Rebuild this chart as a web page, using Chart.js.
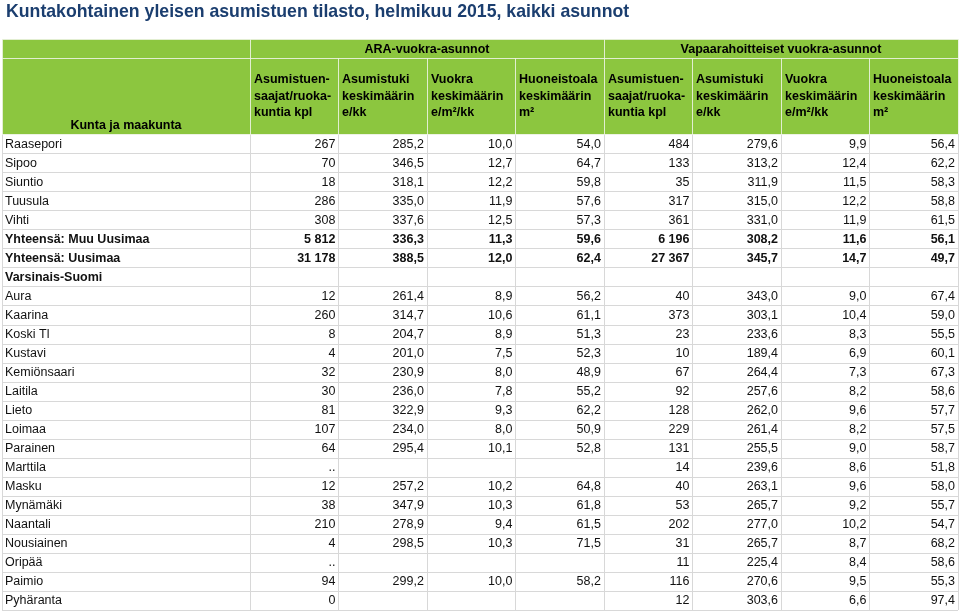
<!DOCTYPE html>
<html>
<head>
<meta charset="utf-8">
<script src="https://cdn.jsdelivr.net/npm/chart.js@4"></script>
<style>
  body { margin: 0; background: #fff; }
  #wrap { width: 960px; height: 612px; position: relative; }
</style>
</head>
<body>
<div id="wrap"><canvas id="table"></canvas></div>
<script>
// rows of the table
const municipalities = ['Raasepori', 'Sipoo', 'Siuntio', 'Tuusula', 'Vihti',
  'Yhteensä: Muu Uusimaa', 'Yhteensä: Uusimaa', 'Varsinais-Suomi',
  'Aura', 'Kaarina', 'Koski Tl', 'Kustavi', 'Kemiönsaari', 'Laitila', 'Lieto',
  'Loimaa', 'Parainen', 'Marttila', 'Masku', 'Mynämäki', 'Naantali',
  'Nousiainen', 'Oripää', 'Paimio', 'Pyhäranta'];
const regions = ['Varsinais-Suomi'];

// ARA-vuokra-asunnot
const araRecipients = [267, 70, 18, 286, 308, 5812, 31178, null, 12, 260, 8, 4, 32, 30, 81, 107, 64, '..', 12, 38, 210, 4, '..', 94, 0];
const araAid = [285.2, 346.5, 318.1, 335.0, 337.6, 336.3, 388.5, null, 261.4, 314.7, 204.7, 201.0, 230.9, 236.0, 322.9, 234.0, 295.4, null, 257.2, 347.9, 278.9, 298.5, null, 299.2, null];
const araRent = [10.0, 12.7, 12.2, 11.9, 12.5, 11.3, 12.0, null, 8.9, 10.6, 8.9, 7.5, 8.0, 7.8, 9.3, 8.0, 10.1, null, 10.2, 10.3, 9.4, 10.3, null, 10.0, null];
const araArea = [54.0, 64.7, 59.8, 57.6, 57.3, 59.6, 62.4, null, 56.2, 61.1, 51.3, 52.3, 48.9, 55.2, 62.2, 50.9, 52.8, null, 64.8, 61.8, 61.5, 71.5, null, 58.2, null];

// Vapaarahoitteiset vuokra-asunnot
const vapRecipients = [484, 133, 35, 317, 361, 6196, 27367, null, 40, 373, 23, 10, 67, 92, 128, 229, 131, 14, 40, 53, 202, 31, 11, 116, 12];
const vapAid = [279.6, 313.2, 311.9, 315.0, 331.0, 308.2, 345.7, null, 343.0, 303.1, 233.6, 189.4, 264.4, 257.6, 262.0, 261.4, 255.5, 239.6, 263.1, 265.7, 277.0, 265.7, 225.4, 270.6, 303.6];
const vapRent = [9.9, 12.4, 11.5, 12.2, 11.9, 11.6, 14.7, null, 9.0, 10.4, 8.3, 6.9, 7.3, 8.2, 9.6, 8.2, 9.0, 8.6, 9.6, 9.2, 10.2, 8.7, 8.4, 9.5, 6.6];
const vapArea = [56.4, 62.2, 58.3, 58.8, 61.5, 56.1, 49.7, null, 67.4, 59.0, 55.5, 60.1, 67.3, 58.6, 57.7, 57.5, 58.7, 51.8, 58.0, 55.7, 54.7, 68.2, 58.6, 55.3, 97.4];

// header texts
const titleText = 'Kuntakohtainen yleisen asumistuen tilasto, helmikuu 2015, kaikki asunnot';
const firstHeader = 'Kunta ja maakunta';
const groupHeaders = ['ARA-vuokra-asunnot', 'Vapaarahoitteiset vuokra-asunnot'];
const columnHeaders = [
  ['Asumistuen-', 'saajat/ruoka-', 'kuntia kpl'],
  ['Asumistuki', 'keskimäärin', 'e/kk'],
  ['Vuokra', 'keskimäärin', 'e/m²/kk'],
  ['Huoneistoala', 'keskimäärin', 'm²']
];

const columns = [araRecipients, araAid, araRent, araArea, vapRecipients, vapAid, vapRent, vapArea];
const decimals = [0, 1, 1, 1, 0, 1, 1, 1];

// layout in scale units: first column is 2.8 times as wide as the others
const colEdges = [0, 2.8, 3.8, 4.8, 5.8, 6.8, 7.8, 8.8, 9.8, 10.8];
const headRows = 5;          // group row (1) + column header row (4)
const FONT = '"Liberation Sans", Arial, Helvetica, sans-serif';
const green = '#8cc63f';

const fmt = (v, d) => {
  if (v === null) return '';
  if (typeof v === 'string') return v;
  if (d === 0) return String(v).replace(/\B(?=(\d{3})+(?!\d))/g, ' ');
  return v.toFixed(d).replace('.', ',');
};
const isBold = name => name.startsWith('Yhteensä') || regions.includes(name);

const datasets = columns.map((col, c) => ({
  label: 'c' + c,
  data: col.map((v, i) => ({ x: colEdges[c + 2], y: headRows + i + 0.5, text: fmt(v, decimals[c]), bold: isBold(municipalities[i]) })),
  pointRadius: 0,
  showLine: false
}));
datasets.unshift({
  label: 'names',
  data: municipalities.map((m, i) => ({ x: colEdges[0], y: headRows + i + 0.5, text: m, bold: isBold(m) })),
  pointRadius: 0,
  showLine: false
});

const tablePlugin = {
  id: 'tablePlugin',
  beforeDraw(chart) {
    const ctx = chart.ctx;
    ctx.save();
    ctx.fillStyle = '#fff';
    ctx.fillRect(0, 0, chart.width, chart.height);
    ctx.restore();
  },
  beforeDatasetsDraw(chart) {
    const { ctx, scales: { x, y } } = chart;
    const X = v => Math.round(x.getPixelForValue(v));
    const Y = v => Math.round(y.getPixelForValue(v));
    const left = X(colEdges[0]), right = X(colEdges[colEdges.length - 1]);
    const top = Y(0), headBottom = Y(headRows), bottom = Y(headRows + municipalities.length);
    ctx.save();
    // header background
    ctx.fillStyle = green;
    ctx.fillRect(left, top, right - left, headBottom - top);
    // data grid
    ctx.strokeStyle = '#d8d8d8';
    ctx.lineWidth = 1;
    ctx.beginPath();
    for (let r = 1; r <= municipalities.length; r++) {
      const yy = Y(headRows + r) + 0.5;
      ctx.moveTo(left, yy); ctx.lineTo(right, yy);
    }
    colEdges.forEach(e => {
      const xx = X(e) + 0.5;
      ctx.moveTo(xx, headBottom); ctx.lineTo(xx, bottom);
    });
    ctx.stroke();
    // header separators
    ctx.strokeStyle = 'rgba(235,242,225,0.9)';
    ctx.beginPath();
    ctx.moveTo(left, top + 0.5); ctx.lineTo(right, top + 0.5);
    ctx.moveTo(left, Y(1) + 0.5); ctx.lineTo(right, Y(1) + 0.5);
    ctx.moveTo(left, headBottom + 0.5); ctx.lineTo(right, headBottom + 0.5);
    colEdges.forEach((e, i) => {
      const xx = X(e) + 0.5;
      const full = i === 0 || i === 1 || i === 5 || i === colEdges.length - 1;
      ctx.moveTo(xx, full ? top : Y(1)); ctx.lineTo(xx, headBottom);
    });
    ctx.stroke();

    // header texts
    ctx.fillStyle = '#000';
    ctx.font = 'bold 12.5px ' + FONT;
    ctx.textBaseline = 'middle';
    ctx.textAlign = 'center';
    ctx.fillText(firstHeader, (X(colEdges[0]) + X(colEdges[1])) / 2, Y(4.55));
    groupHeaders.forEach((g, k) => {
      const a = X(colEdges[1 + k * 4]), b = X(colEdges[5 + k * 4]);
      ctx.fillText(g, (a + b) / 2, Y(0.55));
    });
    ctx.textAlign = 'left';
    const lineY = [2.17, 3.07, 3.9];
    for (let c = 0; c < 8; c++) {
      const lines = columnHeaders[c % 4];
      lines.forEach((t, l) => ctx.fillText(t, X(colEdges[c + 1]) + 4, Y(lineY[l])));
    }
    ctx.restore();
  },
  afterDatasetsDraw(chart) {
    const ctx = chart.ctx;
    ctx.save();
    ctx.fillStyle = '#111';
    ctx.textBaseline = 'middle';
    chart.data.datasets.forEach((ds, d) => {
      const meta = chart.getDatasetMeta(d);
      ctx.textAlign = d === 0 ? 'left' : 'right';
      meta.data.forEach((el, i) => {
        const p = ds.data[i];
        ctx.font = (p.bold ? 'bold ' : '') + '12.5px ' + FONT;
        const xx = d === 0 ? el.x + 3 : el.x - 3;
        ctx.fillText(p.text, xx, el.y + 0.5);
      });
    });
    ctx.restore();
  }
};

// table spans x = 2..958 on the page, chart area starts at 6 so the title lines up
const padLeft = 6, padRight = 2, tableLeft = 2;
const areaW = 960 - padLeft - padRight;
const xMax = colEdges[colEdges.length - 1];
const xMin = (padLeft - tableLeft) * xMax / (areaW + padLeft - tableLeft);

new Chart(document.getElementById('table'), {
  type: 'scatter',
  data: { datasets: datasets },
  options: {
    responsive: true,
    maintainAspectRatio: false,
    animation: false,
    events: [],
    layout: { padding: { left: padLeft, right: padRight, top: 0, bottom: 2 } },
    scales: {
      x: { type: 'linear', min: xMin, max: xMax, display: false },
      y: { type: 'linear', min: 0, max: headRows + municipalities.length, reverse: true, display: false }
    },
    plugins: {
      legend: { display: false },
      tooltip: { enabled: false },
      title: {
        display: true,
        text: titleText,
        align: 'start',
        color: '#1b3e6f',
        font: { family: FONT, size: 17.7, weight: 'bold' },
        padding: { top: 1.5, bottom: 16.3 }
      }
    }
  },
  plugins: [tablePlugin]
});
</script>
</body>
</html>
